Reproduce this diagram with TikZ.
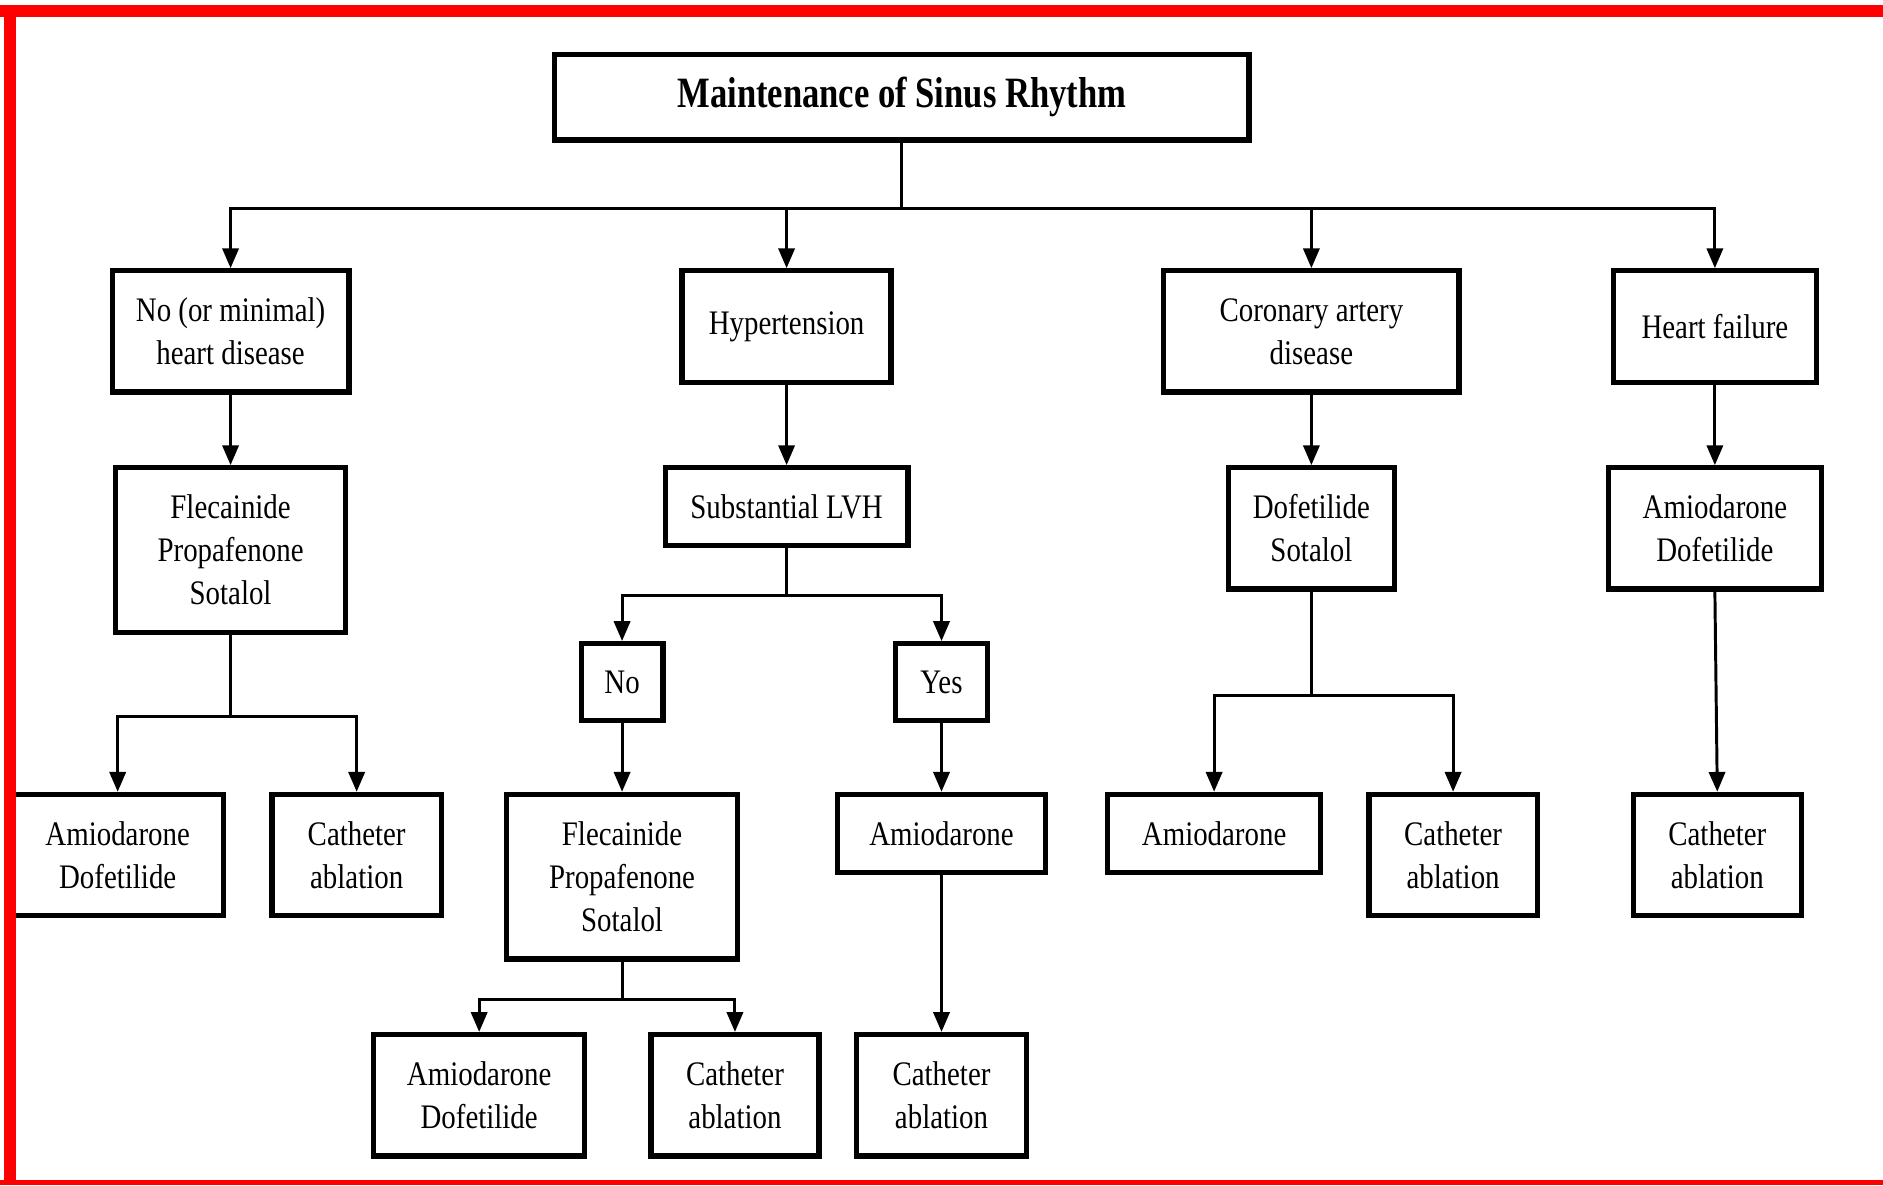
\documentclass[tikz,border=0pt]{standalone}
\usepackage{fontspec}
\setmainfont{Liberation Serif}[FakeStretch=0.84]
\newfontfamily\titlefont{Liberation Serif}[FakeStretch=0.8]
\usetikzlibrary{arrows.meta}

\begin{document}
\begin{tikzpicture}[x=0.02cm, y=0.02cm]
	\tikzstyle{box}   = [rectangle, draw=black, line width=2.5pt, fill=white, align=center, inner sep=0pt,
	                     font=\fontsize{16.3}{20.4}\selectfont]
	\tikzstyle{arrow} = [line width=1.4pt, -{Triangle[length=0.33cm, width=0.27cm]}]

	\useasboundingbox (0,0) rectangle (1568,-987);

	% title
	\node[box, minimum width=578*0.02cm, minimum height=71*0.02cm, font=\titlefont\bfseries\fontsize{20.5}{24}\selectfont]
		(top) at (751,-81) {Maintenance of Sinus Rhythm};

	\foreach \name/\x/\y/\w/\h/\txt in {
		nohd/192/276/197/101/No (or minimal)\\heart disease,
		htn/655/272/174/93/Hypertension,
		cad/1092/276/246/101/Coronary artery\\disease,
		hf/1428/272/169/93/Heart failure,
		fps1/192/458/192/137/Flecainide\\Propafenone\\Sotalol,
		lvh/655/422/202/65/Substantial LVH,
		dsot/1092/440/138/101/Dofetilide\\Sotalol,
		adof1/1428/440/177/101/Amiodarone\\Dofetilide,
		adof2/98/712/176/101/Amiodarone\\Dofetilide,
		cath1/297/712/141/101/Catheter\\ablation,
		no/518/568/68/64/No,
		yes/784/568/77/64/Yes,
		fps2/518/730/192/137/Flecainide\\Propafenone\\Sotalol,
		amio1/784/694/173/65/Amiodarone,
		adof3/399/912/176/101/Amiodarone\\Dofetilide,
		cath2/612/912/140/101/Catheter\\ablation,
		cath3/784/912/141/101/Catheter\\ablation,
		amio2/1011/694/177/65/Amiodarone,
		cath4/1210/712/140/101/Catheter\\ablation,
		cath5/1430/712/140/101/Catheter\\ablation}
		\node[box, minimum width=\w*0.02cm, minimum height=\h*0.02cm] (\name) at (\x,-\y) {\txt};

	% branching connectors
	\foreach \to in {nohd, htn, cad, hf}
		\draw[arrow] (top.south) -- ++(0,-55) -| (\to.north);
	\foreach \to in {adof2, cath1}
		\draw[arrow] (fps1.south) -- ++(0,-68) -| (\to.north);
	\foreach \to in {no, yes}
		\draw[arrow] (lvh.south) -- ++(0,-39.5) -| (\to.north);
	\foreach \to in {adof3, cath2}
		\draw[arrow] (fps2.south) -- ++(0,-31.5) -| (\to.north);
	\foreach \to in {amio2, cath4}
		\draw[arrow] (dsot.south) -- ++(0,-86.5) -| (\to.north);

	% straight connectors
	\foreach \from/\to in {nohd/fps1, htn/lvh, cad/dsot, hf/adof1, no/fps2, yes/amio1, amio1/cath3, adof1/cath5}
		\draw[arrow] (\from.south) -- (\to.north);

	% red frame
	\fill[red] (0,-4) rectangle (1568,-14);
	\fill[red] (3,-4) rectangle (13,-987);
	\fill[red] (0,-983) rectangle (1568,-987);
\end{tikzpicture}
\end{document}
